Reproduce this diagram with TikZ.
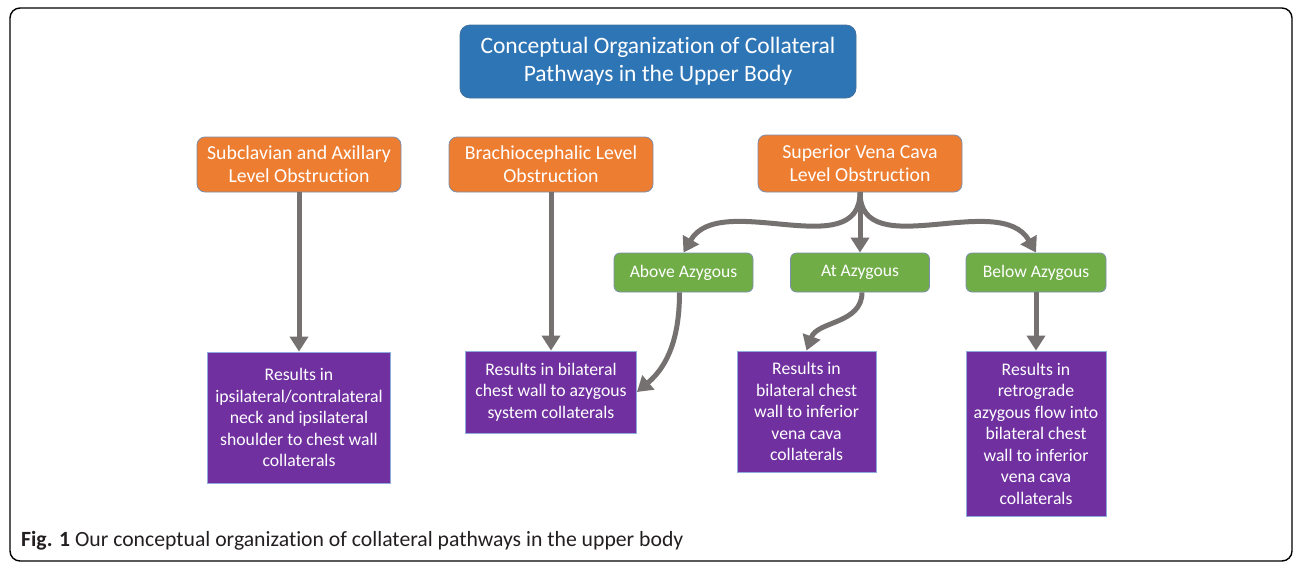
\documentclass[tikz,border=0pt]{standalone}
\usepackage{fontspec}
\setmainfont{Carlito}[Ligatures=NoCommon]
\usetikzlibrary{arrows.meta}
\definecolor{hdblue}{HTML}{2E75B6}
\definecolor{hdedge}{HTML}{41719C}
\definecolor{obsorange}{HTML}{ED7D31}
\definecolor{azygreen}{HTML}{70AD47}
\definecolor{boxedge}{HTML}{7E8FAE}
\definecolor{respurple}{HTML}{7030A0}
\definecolor{resedge}{HTML}{8FAADC}
\definecolor{linkgray}{HTML}{767171}
\definecolor{capblack}{HTML}{231F20}
\begin{document}
\begin{tikzpicture}
[x=1pt,y=-1pt,%
  every node/.style={text=white,align=center,inner sep=0pt},
  head/.style={fill=hdblue,draw=hdedge,line width=0.8pt,rounded corners=10pt,
    minimum width=396pt,minimum height=73pt,font=\fontsize{23.5}{28}\selectfont},
  obst/.style={fill=obsorange,draw=boxedge,line width=0.8pt,rounded corners=8pt,
    minimum width=204pt,minimum height=55pt,font=\fontsize{19.8}{23}\selectfont},
  azy/.style={fill=azygreen,draw=boxedge,line width=0.8pt,rounded corners=6pt,
    minimum width=139pt,minimum height=39pt,font=\fontsize{17.6}{19}\selectfont},
  outcome/.style={fill=respurple,draw=resedge,line width=0.8pt,
    font=\fontsize{17.7}{21.5}\selectfont},
  link/.style={draw=linkgray,line width=5pt,-{Triangle[length=15pt,width=18pt]}}]
\useasboundingbox (0,0) rectangle (1293,563);
\draw[line width=1.4pt,rounded corners=10pt] (10,8) rectangle (1292,561);
% top
\node[head] (top) at (658,61.5) {Conceptual Organization of Collateral\\Pathways in the Upper Body};
% obstruction levels
\node[obst] (subcl) at (299,164.5) {Subclavian and Axillary\\Level Obstruction};
\node[obst] (brach) at (551,164.5) {Brachiocephalic Level\\Obstruction};
\node[obst,minimum height=57pt] (svc) at (860,163.5) {Superior Vena Cava\\Level Obstruction};
% azygous
\node[azy] (above) at (683.5,272.5) {Above Azygous};
\node[azy] (atazy) at (860,272.5) {At Azygous};
\node[azy,minimum width=140pt] (below) at (1036,272.5) {Below Azygous};
% results
\node[outcome,minimum width=183pt,minimum height=131pt] (ressub) at (299,417.5)
  {Results in\\ipsilateral/contralateral\\neck and ipsilateral\\shoulder to chest wall\\collaterals};
\node[outcome,minimum width=171pt,minimum height=82pt] (resbra) at (551,392)
  {Results in bilateral\\chest wall to azygous\\system collaterals};
\node[outcome,minimum width=139pt,minimum height=121pt] (resat) at (806.5,411.5)
  {Results in\\bilateral chest\\wall to inferior\\vena cava\\collaterals};
\node[outcome,minimum width=140pt,minimum height=165pt] (resbel) at (1036,433.5)
  {Results in\\retrograde\\azygous flow into\\bilateral chest\\wall to inferior\\vena cava\\collaterals};
% connectors
\draw[link] (subcl.south) -- (ressub.north);
\draw[link] (brach.south) -- (resbra.north);
\draw[link] (svc.south) -- (atazy.north);
\draw[link] (svc.south) to[out=-90,in=60] (above.north);
\draw[link] (svc.south) to[out=-90,in=120] (below.north);
\draw[link] ([xshift=-4pt]above.south) to[out=-90,in=40] (resbra.east);
\draw[link] ([xshift=2pt]atazy.south) to[out=-90,in=70] (resat.north);
\draw[link] (below.south) -- (resbel.north);
% caption
\node[anchor=west,text=capblack,font=\fontsize{21.7}{24}\selectfont] (cap) at (21,541)
  {\textbf{Fig. 1} Our conceptual organization of collateral pathways in the upper body};
\end{tikzpicture}
\end{document}
